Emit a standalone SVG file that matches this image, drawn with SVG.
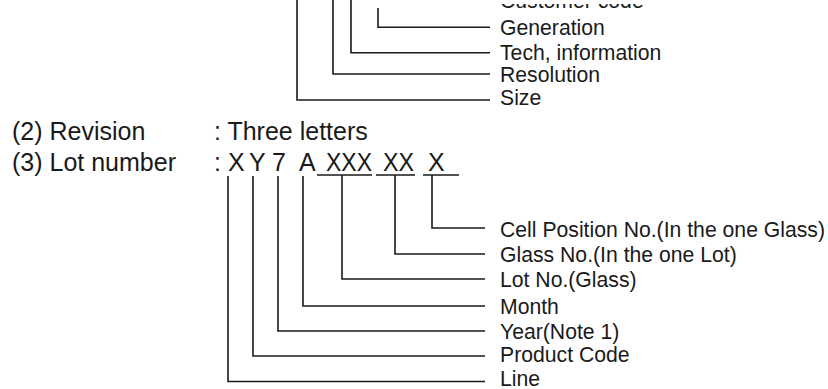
<svg xmlns="http://www.w3.org/2000/svg" width="828" height="389" viewBox="0 0 828 389">
<style>
text{font-family:"Liberation Sans",Arial,sans-serif;fill:#1a1a1a}
.lbl{font-size:21.2px}
.row{font-size:25px}
.c{fill:none;stroke:#1a1a1a;stroke-width:1.6}
</style>
<defs>
<clipPath id="topclip"><rect x="0" y="4" width="828" height="20"/></clipPath>
</defs>
<rect width="828" height="389" fill="#fff"/>
<g id="top-labels">
<g id="customer" clip-path="url(#topclip)"><text class="lbl" x="500" y="7.5">Customer code</text></g>
<g id="generation"><text class="lbl" x="500" y="34.5">Generation</text></g>
<g id="tech"><text class="lbl" x="500" y="59.5">Tech, information</text></g>
<g id="resolution"><text class="lbl" x="500" y="82">Resolution</text></g>
<g id="size"><text class="lbl" x="500" y="105">Size</text></g>
</g>
<g id="revision">
<text class="row" x="12" y="140">(2) Revision</text>
<text class="row" x="214" y="140">: Three letters</text>
</g>
<g id="lot-number">
<text class="row" x="12" y="171">(3) Lot number</text>
<text class="row" x="214" y="171">:</text>
<text class="row" x="228" y="171">X</text>
<text class="row" x="249" y="171">Y</text>
<text class="row" x="272" y="171">7</text>
<text class="row" x="299" y="171">A</text>
<text class="row" x="326" y="171" textLength="46" lengthAdjust="spacingAndGlyphs">XXX</text>
<text class="row" x="383" y="171" textLength="31" lengthAdjust="spacingAndGlyphs">XX</text>
<text class="row" x="428" y="171">X</text>
</g>
<g id="bottom-labels">
<g id="cell"><text class="lbl" x="500" y="236.5">Cell Position No.(In the one Glass)</text></g>
<g id="glass"><text class="lbl" x="500" y="262">Glass No.(In the one Lot)</text></g>
<g id="lotno"><text class="lbl" x="500" y="287">Lot No.(Glass)</text></g>
<g id="month"><text class="lbl" x="500" y="313.5">Month</text></g>
<g id="year"><text class="lbl" x="500" y="339">Year(Note 1)</text></g>
<g id="product"><text class="lbl" x="500" y="362">Product Code</text></g>
<g id="line"><text class="lbl" x="500" y="386">Line</text></g>
</g>
<g id="connectors">
<path class="c" d="M297 0V100H490"/>
<path class="c" d="M333 0V74H490"/>
<path class="c" d="M351 0V52.7H490"/>
<path class="c" d="M378 8V27.3H490"/>
<path class="c" d="M317 175H372M376 175H415M423 175H459"/>
<path class="c" d="M228 176V381.5H485"/>
<path class="c" d="M253 176V356H485"/>
<path class="c" d="M278 176V331H485"/>
<path class="c" d="M303 176V306H485"/>
<path class="c" d="M342 175V279H485"/>
<path class="c" d="M395 175V254H485"/>
<path class="c" d="M432 175V228H485"/>
</g>
</svg>
